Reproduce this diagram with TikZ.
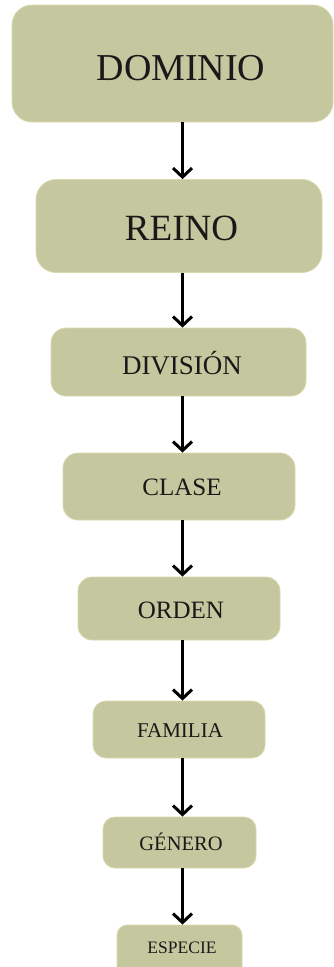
\documentclass[tikz,border=0pt]{standalone}
\usepackage{fontspec}
\setmainfont{Liberation Serif}
\usetikzlibrary{arrows.meta}
\definecolor{boxfill}{HTML}{C5C79E}
\definecolor{boxline}{HTML}{DAD8AE}
\tikzset{
  box/.style={draw=boxline, line width=0.8pt, fill=boxfill, rectangle, inner sep=0pt},
  lbl/.style={anchor=base, inner sep=0pt, text=black!90},
  arr/.style={line width=3pt, -{Straight Barb[length=9pt, width=19pt, line width=3pt]}}
}
\begin{document}
\begin{tikzpicture}[x=1pt, y=-1pt]
\useasboundingbox (0,0) rectangle (334,967);
% boxes
\node[box, rounded corners=20pt, minimum width=321pt, minimum height=117pt] (b1) at (172.5,63.5) {};
\node[box, rounded corners=20pt, minimum width=286pt, minimum height=93pt] (b2) at (179,226) {};
\node[box, rounded corners=15pt, minimum width=255pt, minimum height=68pt] (b3) at (178.5,362) {};
\node[box, rounded corners=15pt, minimum width=232pt, minimum height=67pt] (b4) at (179,486.5) {};
\node[box, rounded corners=14pt, minimum width=202pt, minimum height=63pt] (b5) at (179,608.5) {};
\node[box, rounded corners=13pt, minimum width=172pt, minimum height=57pt] (b6) at (179,729.5) {};
\node[box, rounded corners=12pt, minimum width=153pt, minimum height=51pt] (b7) at (179.5,842.5) {};
\node[box, rounded corners=10pt, minimum width=125pt, minimum height=52pt] (b8) at (179.5,951) {};
% labels
\node[lbl, font=\fontsize{38}{40}\selectfont] (t1) at (181,80) {DOMINIO};
\node[lbl, font=\fontsize{37}{39}\selectfont] (t2) at (181.5,240.5) {REINO};
\node[lbl, font=\fontsize{27}{29}\selectfont] (t3) at (182,374) {DIVISIÓN};
\node[lbl, font=\fontsize{25}{27}\selectfont] (t4) at (182,495) {CLASE};
\node[lbl, font=\fontsize{25}{27}\selectfont] (t5) at (181,618.3) {ORDEN};
\node[lbl, font=\fontsize{21}{23}\selectfont] (t6) at (180,737.3) {FAMILIA};
\node[lbl, font=\fontsize{20.5}{22}\selectfont] (t7) at (181,850) {GÉNERO};
\node[lbl, font=\fontsize{17.5}{19}\selectfont] (t8) at (182,953.3) {ESPECIE};
% arrows
\foreach \a/\b in {b1/b2,b2/b3,b3/b4,b4/b5,b5/b6,b6/b7,b7/b8}{
  \draw[arr] (\a.south -| 182.5,0) -- (\b.north -| 182.5,0);
}
\end{tikzpicture}
\end{document}
